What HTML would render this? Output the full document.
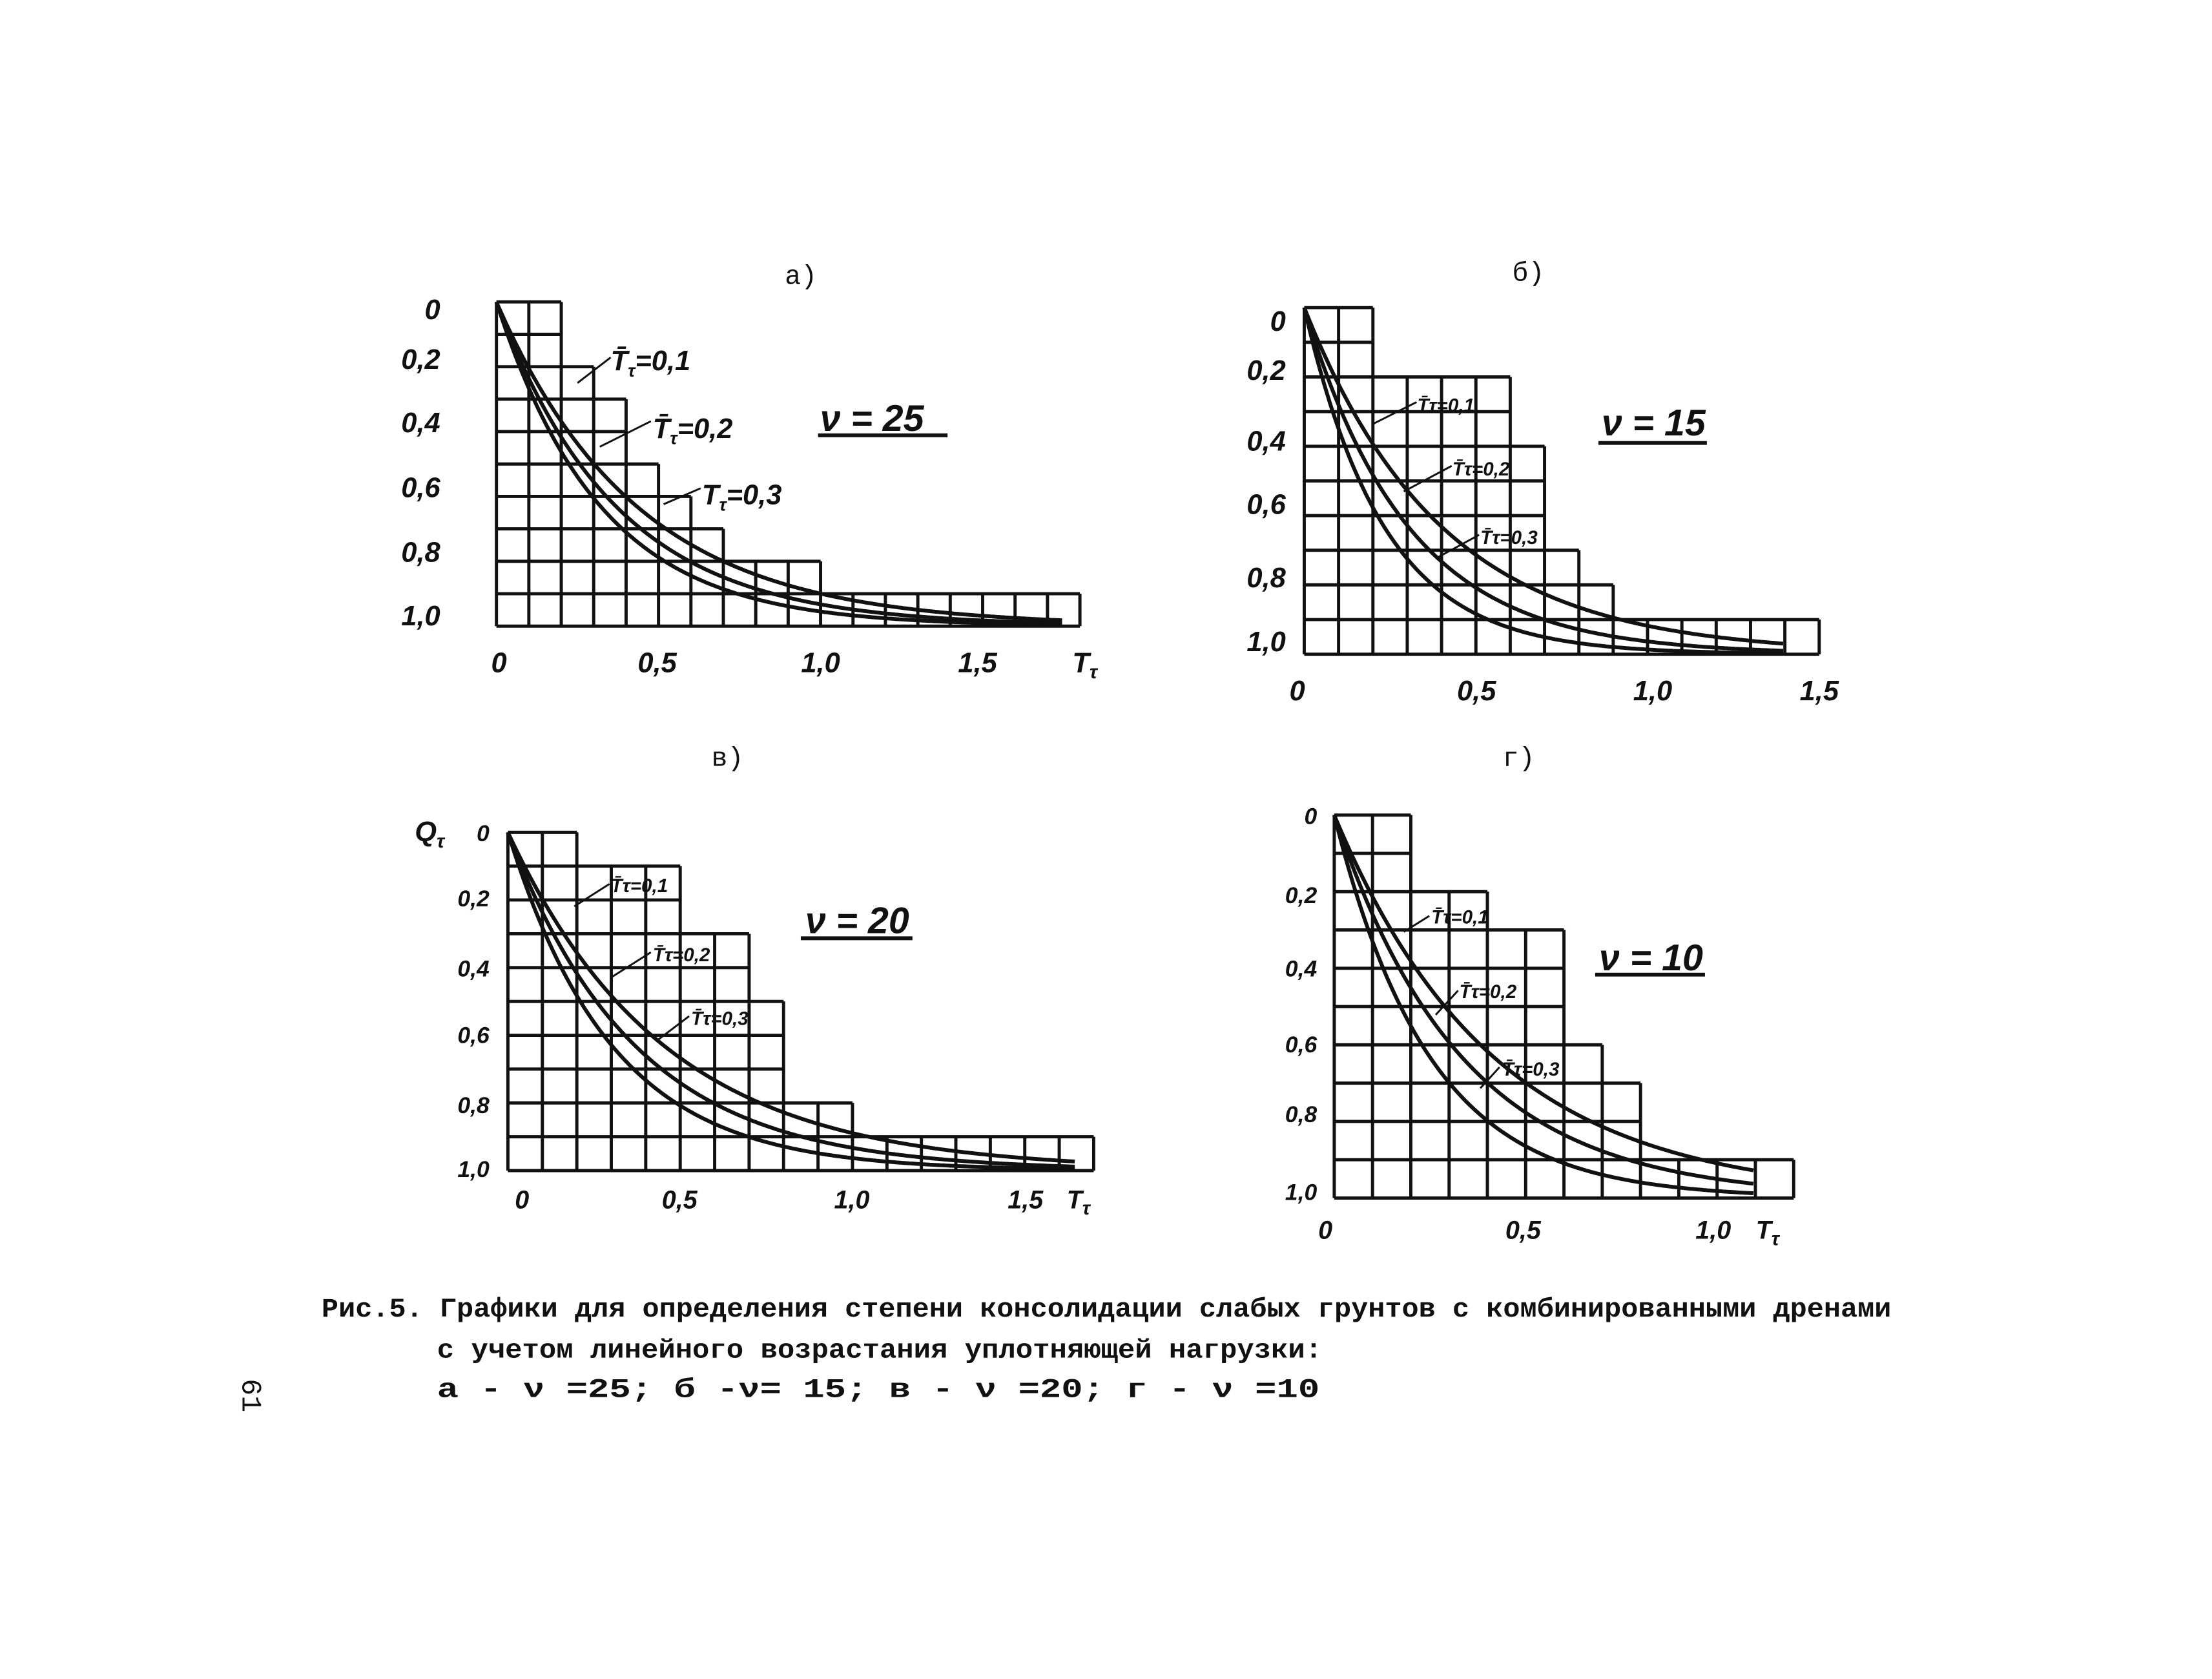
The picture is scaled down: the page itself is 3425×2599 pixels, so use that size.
<!DOCTYPE html>
<html><head><meta charset="utf-8">
<style>
html,body{margin:0;padding:0;background:#fff;}
svg{display:block}
.l{font-family:"Liberation Sans","DejaVu Sans",sans-serif;font-style:italic;font-weight:bold;fill:#111}
.m{font-family:"Liberation Mono","DejaVu Sans Mono",monospace;fill:#111}
</style></head>
<body>
<svg id="s" width="3425" height="2599" viewBox="0 0 3425 2599" xmlns="http://www.w3.org/2000/svg">
<rect width="3425" height="2599" fill="#fff"/>
<g transform="scale(0.988)">
<g id="g" stroke="#111" fill="none" stroke-width="5"></g>
<g class="m" font-size="42">
<text x="1230" y="445">а)</text>
<text x="2370" y="440">б)</text>
<text x="1115" y="1200">в)</text>
<text x="2355" y="1200">г)</text>
</g>
<g class="l" font-size="58">
<text x="1285" y="675">ν = 25</text>
<text x="2510" y="682">ν = 15</text>
<text x="1262" y="1462">ν = 20</text>
<text x="2506" y="1520">ν = 10</text>
</g>
<g stroke="#111" stroke-width="6">
<line x1="1282" y1="682" x2="1485" y2="682"/>
<line x1="2505" y1="694" x2="2675" y2="694"/>
<line x1="1255" y1="1470" x2="1430" y2="1470"/>
<line x1="2500" y1="1527" x2="2672" y2="1527"/>
</g>
<g class="l" font-size="44" text-anchor="end">
<text x="690" y="500">0</text><text x="690" y="578">0,2</text><text x="690" y="677">0,4</text><text x="690" y="779">0,6</text><text x="690" y="880">0,8</text><text x="690" y="980">1,0</text>
<text x="2015" y="518">0</text><text x="2015" y="595">0,2</text><text x="2015" y="706">0,4</text><text x="2015" y="805">0,6</text><text x="2015" y="920">0,8</text><text x="2015" y="1020">1,0</text>
</g>
<g class="l" font-size="36" text-anchor="end">
<text x="767" y="1318">0</text><text x="767" y="1420">0,2</text><text x="767" y="1530">0,4</text><text x="767" y="1634">0,6</text><text x="767" y="1744">0,8</text><text x="767" y="1844">1,0</text>
<text x="2064" y="1291">0</text><text x="2064" y="1415">0,2</text><text x="2064" y="1530">0,4</text><text x="2064" y="1649">0,6</text><text x="2064" y="1758">0,8</text><text x="2064" y="1880">1,0</text>
</g>
<text class="l" x="650" y="1318" font-size="44">Q<tspan font-size="30" dy="10">τ</tspan></text>
<g class="l" font-size="44" text-anchor="middle">
<text x="782" y="1053">0</text><text x="1030" y="1053">0,5</text><text x="1286" y="1053">1,0</text><text x="1532" y="1053">1,5</text><text x="1700" y="1053">T<tspan font-size="30" dy="10">τ</tspan></text>
<text x="2033" y="1097">0</text><text x="2314" y="1097">0,5</text><text x="2590" y="1097">1,0</text><text x="2851" y="1097">1,5</text>
</g>
<g class="l" font-size="40" text-anchor="middle">
<text x="818" y="1893">0</text><text x="1065" y="1893">0,5</text><text x="1335" y="1893">1,0</text><text x="1607" y="1893">1,5</text><text x="1690" y="1893">T<tspan font-size="30" dy="10">τ</tspan></text>
<text x="2077" y="1941">0</text><text x="2387" y="1941">0,5</text><text x="2685" y="1941">1,0</text><text x="2770" y="1941">T<tspan font-size="30" dy="10">τ</tspan></text>
</g>
<g class="l" font-size="44">
<text x="957" y="580">T̄<tspan font-size="28" dy="10">τ</tspan><tspan dy="-10">=0,1</tspan></text>
<text x="1023" y="686">T̄<tspan font-size="28" dy="10">τ</tspan><tspan dy="-10">=0,2</tspan></text>
<text x="1100" y="790">T<tspan font-size="28" dy="10">τ</tspan><tspan dy="-10">=0,3</tspan></text>
</g>
<g class="l" font-size="30">
<text x="2221" y="645">T̄τ=0,1</text><text x="2276" y="745">T̄τ=0,2</text><text x="2320" y="852">T̄τ=0,3</text>
<text x="957" y="1398">T̄τ=0,1</text><text x="1023" y="1506">T̄τ=0,2</text><text x="1083" y="1606">T̄τ=0,3</text>
<text x="2243" y="1447">T̄τ=0,1</text><text x="2287" y="1564">T̄τ=0,2</text><text x="2354" y="1685">T̄τ=0,3</text>
</g>
<g stroke="#111" stroke-width="3">
<line x1="905" y1="600" x2="957" y2="560"/><line x1="940" y1="700" x2="1020" y2="660"/><line x1="1040" y1="790" x2="1098" y2="765"/>
<line x1="2150" y1="665" x2="2220" y2="630"/><line x1="2200" y1="770" x2="2275" y2="730"/><line x1="2250" y1="875" x2="2318" y2="838"/>
<line x1="900" y1="1420" x2="955" y2="1385"/><line x1="960" y1="1530" x2="1020" y2="1492"/><line x1="1030" y1="1630" x2="1080" y2="1592"/>
<line x1="2200" y1="1460" x2="2240" y2="1435"/><line x1="2250" y1="1590" x2="2285" y2="1552"/><line x1="2320" y1="1705" x2="2350" y2="1672"/>
</g>
<g class="m" font-size="42" font-weight="bold">
<text x="504" y="2063" textLength="2460" lengthAdjust="spacingAndGlyphs">Рис.5. Графики для определения степени консолидации слабых грунтов с комбинированными дренами</text>
<text x="685" y="2127" textLength="1387" lengthAdjust="spacingAndGlyphs">с учетом линейного возрастания уплотняющей нагрузки:</text>
<text x="685" y="2189" textLength="1383" lengthAdjust="spacingAndGlyphs">а - ν =25;   б -ν= 15;    в - ν =20;     г - ν =10</text>
</g>
<text class="m" font-size="44" transform="translate(380,2160) rotate(90)">61</text>
</g>
</svg>
<script>
var g=document.getElementById('g');
function ln(x1,y1,x2,y2){var e=document.createElementNS('http://www.w3.org/2000/svg','line');e.setAttribute('x1',x1);e.setAttribute('y1',y1);e.setAttribute('x2',x2);e.setAttribute('y2',y2);g.appendChild(e);}
function chart(L,T,cw,ch,widths,ks,maxc){
  var n=widths.length;
  for(var i=0;i<=n;i++){var w=i==0?widths[0]:(i==n?widths[n-1]:Math.max(widths[i-1],widths[i]));ln(L,T+i*ch,L+w*cw,T+i*ch);}
  var maxw=Math.max.apply(null,widths);
  for(var j=0;j<=maxw;j++){var r0=-1;for(var i=0;i<n;i++){if(widths[i]>=j){r0=i;break;}}ln(L+j*cw,T+r0*ch,L+j*cw,T+n*ch);}
  ks.forEach(function(k){var d='';for(var t=0;t<=maxc;t+=0.05){var x=t/10,y=1-Math.exp(-k*x);d+=(t==0?'M':'L')+(L+t*cw).toFixed(1)+','+(T+y*10*ch).toFixed(1);}
    var p=document.createElementNS('http://www.w3.org/2000/svg','path');p.setAttribute('d',d);p.setAttribute('stroke-width','6');g.appendChild(p);});
}
chart(778,473,50.8,50.8,[2,2,3,4,4,5,6,7,10,18],[3.1,2.7,2.3],17.5);
chart(2044,482,53.8,54.3,[2,2,6,6,7,7,7,8,9,15],[4.3,3.3,2.5],14);
chart(796,1304,54,53,[2,5,5,7,7,8,8,8,10,17],[3.3,2.7,2.2],16.5);
chart(2091,1277,60,60,[2,2,4,6,6,6,7,8,8,12],[4,3,2.4],11);
</script>
</body></html>
